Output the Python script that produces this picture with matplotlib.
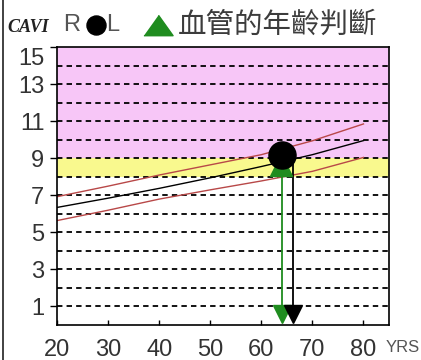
import matplotlib
matplotlib.use("Agg")
import matplotlib.pyplot as plt
from matplotlib.lines import Line2D
from matplotlib.transforms import ScaledTranslation

# reference curves (CAVI by age)
ages = [20, 30, 40, 50, 60, 70, 80]
cavi_upper = [6.93, 7.5, 8.1, 8.65, 9.2, 9.95, 10.86]
cavi_mean = [6.35, 6.85, 7.38, 7.95, 8.56, 9.2, 9.96]
cavi_lower = [5.64, 6.2, 6.8, 7.3, 7.78, 8.3, 9.05]

# patient values
r_age, r_cavi = 64.1, 9.19
l_age, l_cavi = 63.8, 8.65
r_vasc_age = 66.3
l_vasc_age = 64.0
arrow_y = 0.6

yticks = [1, 3, 5, 7, 9, 11, 13, 15]
xticks = [20, 30, 40, 50, 60, 70, 80]
grid_y = list(range(1, 15))

W, H = 421, 360
fig = plt.figure(figsize=(W / 100, H / 100), dpi=100)
ax = fig.add_axes([57 / W, (H - 325) / H, (389 - 57) / W, (325 - 47.3) / H])

ax.axhspan(9, 15, color="#f7c6f7", lw=0, zorder=0)
ax.axhspan(8, 9, color="#f9f98e", lw=0, zorder=0)
for g in grid_y:
    ax.axhline(g, color="black", lw=1.3, dashes=(3.0, 2.3), zorder=1)

ax.plot(ages, cavi_upper, color="#b84848", lw=1.0, zorder=2)
ax.plot(ages, cavi_lower, color="#b84848", lw=1.0, zorder=2)
ax.plot(ages, cavi_mean, color="black", lw=1.0, zorder=2)

green = "#1f8c1f"
ax.plot([l_vasc_age, l_vasc_age], [l_cavi, arrow_y], color=green, lw=1.3, zorder=3)
ax.plot([r_vasc_age, r_vasc_age], [r_cavi, arrow_y], color="black", lw=1.3, zorder=3)
ax.plot([l_age], [l_cavi], marker="^", ms=16.5, color=green, ls="none", zorder=4)
ax.plot([r_age], [r_cavi], marker="o", ms=19.5, color="black", ls="none", zorder=5)
ax.plot([l_vasc_age], [arrow_y], marker="v", ms=13, color=green, ls="none", zorder=4, clip_on=False)
ax.plot([r_vasc_age], [arrow_y], marker="v", ms=13, color="black", ls="none", zorder=5, clip_on=False)

ax.set_xlim(20, 85)
ax.set_ylim(0, 15)
ax.set_xticks(xticks)
ax.set_yticks(yticks)
tick_font = ["Liberation Sans Narrow", "Liberation Sans"]
ax.tick_params(axis="y", direction="out", length=5, width=1, pad=4, labelsize=17, labelcolor="#333333")
ax.tick_params(axis="x", direction="in", length=3.5, width=1, pad=10, labelsize=17, labelcolor="#333333")
for lab in ax.get_xticklabels() + ax.get_yticklabels():
    lab.set_family(tick_font)
top_lab = ax.get_yticklabels()[-1]
top_lab.set_transform(top_lab.get_transform() + ScaledTranslation(0, -0.09, fig.dpi_scale_trans))
for sp in ax.spines.values():
    sp.set_linewidth(1.2)

# header
hy = 1 - 25 / H
fig.text(7 / W, 1 - 28 / H, "CAVI", family="Liberation Serif", style="italic", weight="bold",
         fontsize=13, color="#222222", va="center", ha="left")
fig.text(63 / W, hy, "R", family=tick_font, fontsize=17, color="#555555", va="center", ha="left")
fig.add_artist(Line2D([96 / W], [hy], marker="o", ms=13.7, color="black", transform=fig.transFigure))
fig.text(106 / W, hy, "L", family=tick_font, fontsize=17, color="#555555", va="center", ha="left")
fig.add_artist(Line2D([157.5 / W], [hy], marker=[(-1, -0.7), (1, -0.7), (0, 0.7)], ms=21,
                      color=green, transform=fig.transFigure))
fig.text(178 / W, hy, "血管的年齡判斷", family=["Noto Sans CJK TC", "DejaVu Sans"], fontsize=20.5,
         color="#3c3c3c", va="center", ha="left")
fig.text(386 / W, 1 - 347 / H, "YRS", family=tick_font, fontsize=12, color="#555555", va="center", ha="left")

# frame line at left edge
fig.add_artist(Line2D([2.5 / W, 2.5 / W], [0, 1], color="#333333", lw=1.3, transform=fig.transFigure))

fig.savefig("out.png", dpi=100)
